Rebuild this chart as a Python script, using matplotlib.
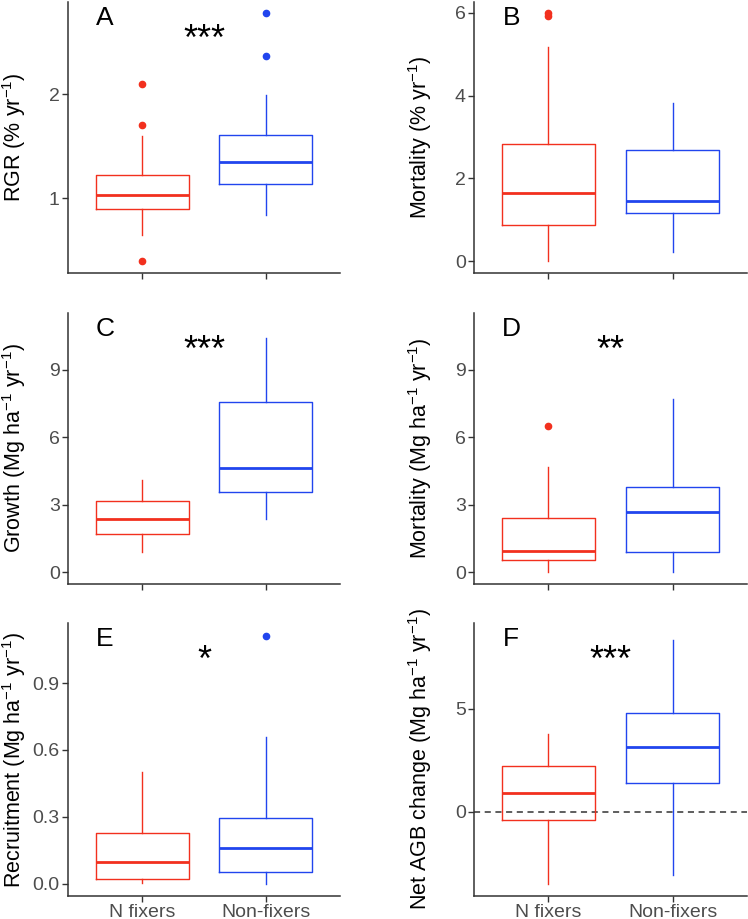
import matplotlib
matplotlib.use("Agg")
import matplotlib.pyplot as plt
from matplotlib.transforms import blended_transform_factory

plt.rcParams['font.family'] = ['Liberation Sans', 'DejaVu Sans']
plt.rcParams['mathtext.fontset'] = 'custom'
plt.rcParams['mathtext.rm'] = 'Liberation Sans'
plt.rcParams['mathtext.it'] = 'Liberation Sans:italic'
plt.rcParams['mathtext.bf'] = 'Liberation Sans:bold'

# ---------------- data (whislo, q1, median, q3, whishi) ----------------
groups = ["N fixers", "Non-fixers"]

rgr_n = [0.644, 0.90, 1.027, 1.224, 1.593]
rgr_n_out = [0.394, 1.70, 2.10]
rgr_nf = [0.837, 1.137, 1.343, 1.606, 1.99]
rgr_nf_out = [2.365, 2.78]

mortpct_n = [0.0, 0.87, 1.635, 2.83, 5.18]
mortpct_n_out = [5.92, 6.0]
mortpct_nf = [0.21, 1.15, 1.44, 2.68, 3.82]
mortpct_nf_out = []

growth_n = [0.89, 1.69, 2.37, 3.16, 4.09]
growth_n_out = []
growth_nf = [2.36, 3.58, 4.65, 7.57, 10.43]
growth_nf_out = []

mortmg_n = [0.0, 0.56, 0.96, 2.41, 4.69]
mortmg_n_out = [6.50]
mortmg_nf = [0.0, 0.89, 2.68, 3.80, 7.70]
mortmg_nf_out = []

recr_n = [0.003, 0.02, 0.099, 0.229, 0.50]
recr_n_out = []
recr_nf = [0.0, 0.051, 0.16, 0.296, 0.658]
recr_nf_out = [1.111]

net_n = [-3.51, -0.39, 0.89, 2.23, 3.76]
net_n_out = []
net_nf = [-3.06, 1.39, 3.16, 4.79, 8.33]
net_nf_out = []

panel_letters = ["A", "B", "C", "D", "E", "F"]
signif = ["***", "", "***", "**", "*", "***"]
ylabels = [
    "RGR (% yr$^{-1}$)",
    "Mortality (% yr$^{-1}$)",
    "Growth (Mg ha$^{-1}$ yr$^{-1}$)",
    "Mortality (Mg ha$^{-1}$ yr$^{-1}$)",
    "Recruitment (Mg ha$^{-1}$ yr$^{-1}$)",
    "Net AGB change (Mg ha$^{-1}$ yr$^{-1}$)",
]
yticks = [
    [1, 2],
    [0, 2, 4, 6],
    [0, 3, 6, 9],
    [0, 3, 6, 9],
    [0.0, 0.3, 0.6, 0.9],
    [0, 5],
]
ytick_fmt = ["{:g}", "{:g}", "{:g}", "{:g}", "{:.1f}", "{:g}"]
ylims = [
    (0.28, 2.885),
    (-0.29, 6.26),
    (-0.52, 11.54),
    (-0.52, 11.54),
    (-0.054, 1.168),
    (-4.08, 9.15),
]

panels = [
    (rgr_n, rgr_n_out, rgr_nf, rgr_nf_out),
    (mortpct_n, mortpct_n_out, mortpct_nf, mortpct_nf_out),
    (growth_n, growth_n_out, growth_nf, growth_nf_out),
    (mortmg_n, mortmg_n_out, mortmg_nf, mortmg_nf_out),
    (recr_n, recr_n_out, recr_nf, recr_nf_out),
    (net_n, net_n_out, net_nf, net_nf_out),
]

RED = "#F2301E"
BLUE = "#2145EE"
colors = [RED, BLUE]
AX = "#333333"
TICKC = "#4D4D4D"

W, H = 748, 919
fig = plt.figure(figsize=(W / 100, H / 100), dpi=100)

col_x = [(68, 340), (474, 747)]
row_y = [(2, 273), (312.7, 584), (623.3, 895.7)]


def stat(v, out):
    return dict(whislo=v[0], q1=v[1], med=v[2], q3=v[3], whishi=v[4], fliers=out)


for i in range(6):
    r, c = divmod(i, 2)
    x0, x1 = col_x[c]
    y0, y1 = row_y[r]
    ax = fig.add_axes([x0 / W, 1 - y1 / H, (x1 - x0) / W, (y1 - y0) / H])
    a, ao, b, bo = panels[i]
    stats = [stat(a, ao), stat(b, bo)]
    for k in range(2):
        col = colors[k]
        ax.bxp([stats[k]], positions=[k + 1], widths=0.75, showcaps=False,
               boxprops=dict(color=col, linewidth=1.0),
               whiskerprops=dict(color=col, linewidth=1.0),
               medianprops=dict(color=col, linewidth=2.0),
               flierprops=dict(marker='o', markerfacecolor=col, markeredgecolor=col,
                               markersize=4.5, linestyle='none'),
               manage_ticks=False)
    if i == 5:
        ax.axhline(0, color=AX, linestyle=(0, (4, 3)), linewidth=1.1, zorder=0)
    ax.set_xlim(0.4, 2.6)
    ax.set_ylim(*ylims[i])
    ax.set_yticks(yticks[i])
    ax.set_yticklabels([ytick_fmt[i].format(t) for t in yticks[i]])
    ax.set_xticks([1, 2])
    if r == 2:
        ax.set_xticklabels(groups)
    else:
        ax.set_xticklabels([])
    for s in ["top", "right"]:
        ax.spines[s].set_visible(False)
    for s in ["left", "bottom"]:
        ax.spines[s].set_color(AX)
        ax.spines[s].set_linewidth(1.1)
    ax.tick_params(axis='both', colors=AX, length=4.0, width=1.0,
                   labelsize=14, labelcolor=TICKC, pad=2)
    ax.set_ylabel(ylabels[i], fontsize=15.5, color='black')
    ax.yaxis.set_label_coords(-0.146, 0.5)
    tr = blended_transform_factory(ax.transData, ax.transAxes)
    ax.text(0.7, 1 - 4.0 / (y1 - y0), panel_letters[i], transform=tr,
            ha='center', va='top', fontsize=19, color='black')
    if signif[i]:
        ax.text(1.5, 1 - 21.0 / (y1 - y0), signif[i], transform=tr,
                ha='center', va='top', fontsize=26, color='black')

fig.savefig("out.png", dpi=100)
